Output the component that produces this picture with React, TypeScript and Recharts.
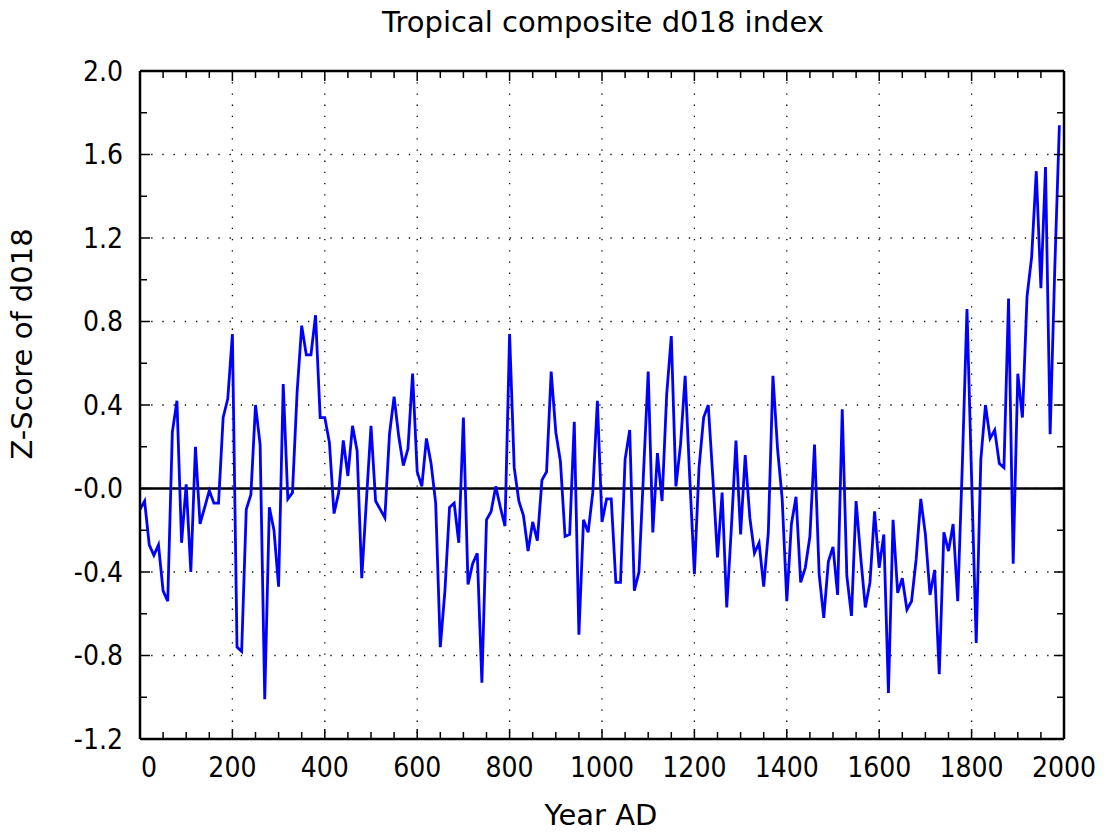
import { CartesianGrid, Line, LineChart, ReferenceLine, XAxis, YAxis } from "recharts";

// decadal z-scores, first point at year 0, one point every 10 years
const firstYear = 0;
const yearStep = 10;
const zScores = [
  -0.10, -0.06, -0.27, -0.32, -0.27, -0.49, -0.54, 0.27, 0.42, -0.26, 0.02, -0.40, 0.20, -0.17, -0.09, -0.01, -0.07, -0.07, 0.34, 0.43, 0.74,
  -0.76, -0.78, -0.10, -0.03, 0.40, 0.21, -1.01, -0.09, -0.20, -0.47, 0.50, -0.05, -0.02, 0.46, 0.78, 0.64, 0.64, 0.83, 0.34, 0.34,
  0.22, -0.12, -0.02, 0.23, 0.06, 0.30, 0.18, -0.43, -0.06, 0.30, -0.06, -0.10, -0.14, 0.26, 0.44, 0.25, 0.11, 0.19, 0.55,
  0.08, 0.01, 0.24, 0.12, -0.07, -0.76, -0.49, -0.09, -0.07, -0.26, 0.34, -0.46, -0.36, -0.31, -0.93, -0.15, -0.11, 0.01, -0.09, -0.18,
  0.74, 0.10, -0.06, -0.13, -0.30, -0.16, -0.25, 0.04, 0.08, 0.56, 0.27, 0.13, -0.23, -0.22, 0.32, -0.70, -0.15, -0.21, -0.02, 0.42,
  -0.16, -0.05, -0.05, -0.45, -0.45, 0.14, 0.28, -0.49, -0.40, 0.08, 0.56, -0.21, 0.17, -0.06, 0.45, 0.73, 0.01, 0.21, 0.54,
  0.05, -0.41, 0.10, 0.34, 0.40, 0.05, -0.33, -0.02, -0.57, -0.19, 0.23, -0.22, 0.16, -0.14, -0.31, -0.26, -0.47, -0.21, 0.54,
  0.19, -0.05, -0.54, -0.17, -0.04, -0.45, -0.38, -0.23, 0.21, -0.41, -0.62, -0.35, -0.28, -0.51, 0.38, -0.42, -0.61, -0.06, -0.33, -0.57,
  -0.45, -0.11, -0.38, -0.22, -0.98, -0.15, -0.50, -0.43, -0.58, -0.54, -0.34, -0.05, -0.22, -0.51, -0.39, -0.89, -0.21, -0.30, -0.17,
  -0.54, 0.12, 0.86, 0.05, -0.74, 0.14, 0.40, 0.24, 0.28, 0.12, 0.10, 0.91, -0.36, 0.55, 0.34, 0.92, 1.11, 1.52, 0.96, 1.54, 0.26, 1.05, 1.74,
];

const xTicks = [
  0, 50, 100, 150, 200, 250, 300, 350, 400, 450, 500, 550, 600, 650, 700, 750, 800, 850, 900, 950, 1000,
  1050, 1100, 1150, 1200, 1250, 1300, 1350, 1400, 1450, 1500, 1550, 1600, 1650, 1700, 1750, 1800, 1850, 1900, 1950, 2000,
];
const xMajor = [0, 200, 400, 600, 800, 1000, 1200, 1400, 1600, 1800, 2000];
const yTicks = [-1.2, -1.0, -0.8, -0.6, -0.4, -0.2, 0, 0.2, 0.4, 0.6, 0.8, 1.0, 1.2, 1.4, 1.6, 1.8, 2.0];
const yMajor = [-1.2, -0.8, -0.4, 0, 0.4, 0.8, 1.2, 1.6, 2.0];
const yLabels = ["-1.2", "-0.8", "-0.4", "-0.0", "0.4", "0.8", "1.2", "1.6", "2.0"];

const data = zScores.map((z, i) => ({ year: firstYear + i * yearStep, z }));

const numFont = "'DejaVu Sans Condensed', 'DejaVu Sans', sans-serif";
const textFont = "'DejaVu Sans', sans-serif";
const isMajorY = (v: number) => yMajor.findIndex((m) => Math.abs(m - v) < 1e-6);

function BottomTick({ x, y, payload }: any) {
  const major = xMajor.includes(payload.value);
  return <g>
    <line x1={x} x2={x} y1={y} y2={y - (major ? 10 : 7)} stroke="#000" strokeWidth={1.5} />
    {major && <text x={x + (payload.value === 0 ? 9 : 0)} y={y + 28} textAnchor="middle" dominantBaseline="central" fontFamily={numFont} fontSize={28} fill="#000">{payload.value}</text>}
  </g>;
}

function TopTick({ x, y, payload }: any) {
  const major = xMajor.includes(payload.value);
  return <line x1={x} x2={x} y1={y} y2={y + (major ? 10 : 7)} stroke="#000" strokeWidth={1.5} />;
}

function LeftTick({ x, y, payload }: any) {
  const k = isMajorY(payload.value);
  return <g>
    <line x1={x} x2={x + (k >= 0 ? 10 : 7)} y1={y} y2={y} stroke="#000" strokeWidth={1.5} />
    {k >= 0 && <text x={x - 17} y={y} textAnchor="end" dominantBaseline="central" fontFamily={numFont} fontSize={28} fill="#000">{yLabels[k]}</text>}
  </g>;
}

function RightTick({ x, y, payload }: any) {
  const k = isMajorY(payload.value);
  return <line x1={x} x2={x - (k >= 0 ? 10 : 7)} y1={y} y2={y} stroke="#000" strokeWidth={1.5} />;
}

export default function App() {
  return <div style={{ position: "relative", width: 1108, height: 834, background: "#fff" }}>
    <style>{"body{margin:0}"}</style>
    <LineChart width={1108} height={834} data={data} margin={{ top: 70, right: 43, bottom: 45, left: 70 }}>
      <CartesianGrid xAxisId="b" yAxisId="l" stroke="#000" strokeWidth={1.3} strokeDasharray="1.3 9.9" horizontalValues={yMajor} verticalValues={xMajor} />
      <XAxis xAxisId="b" dataKey="year" type="number" domain={[0, 2000]} ticks={xTicks} interval={0} height={50} tickSize={0} tickMargin={0} tick={BottomTick} axisLine={{ stroke: "#000", strokeWidth: 2.5 }} allowDataOverflow />
      <XAxis xAxisId="t" orientation="top" dataKey="year" type="number" domain={[0, 2000]} ticks={xTicks} interval={0} height={1} tickSize={0} tickMargin={0} tick={TopTick} axisLine={{ stroke: "#000", strokeWidth: 2.5 }} allowDataOverflow />
      <YAxis yAxisId="l" type="number" domain={[-1.2, 2.0]} ticks={yTicks} interval={0} width={70} tickSize={0} tickMargin={0} tick={LeftTick} axisLine={{ stroke: "#000", strokeWidth: 2.5 }} allowDataOverflow />
      <YAxis yAxisId="r" orientation="right" type="number" domain={[-1.2, 2.0]} ticks={yTicks} interval={0} width={1} tickSize={0} tickMargin={0} tick={RightTick} axisLine={{ stroke: "#000", strokeWidth: 2.5 }} allowDataOverflow />
      <ReferenceLine xAxisId="b" yAxisId="l" y={0} stroke="#000" strokeWidth={2.5} />
      <Line xAxisId="b" yAxisId="l" type="linear" dataKey="z" stroke="#0000ff" strokeWidth={2.8} dot={false} isAnimationActive={false} />
    </LineChart>
    <svg width={1108} height={834} style={{ position: "absolute", left: 0, top: 0, pointerEvents: "none" }}>
      <text x={603} y={22} textAnchor="middle" dominantBaseline="central" fontFamily={textFont} fontSize={29} fill="#000">Tropical composite d018 index</text>
      <text x={601} y={815} textAnchor="middle" dominantBaseline="central" fontFamily={textFont} fontSize={29} fill="#000">Year AD</text>
      <text transform="translate(22 344) rotate(-90)" textAnchor="middle" dominantBaseline="central" fontFamily={textFont} fontSize={29} fill="#000">Z-Score of d018</text>
    </svg>
  </div>;
}
